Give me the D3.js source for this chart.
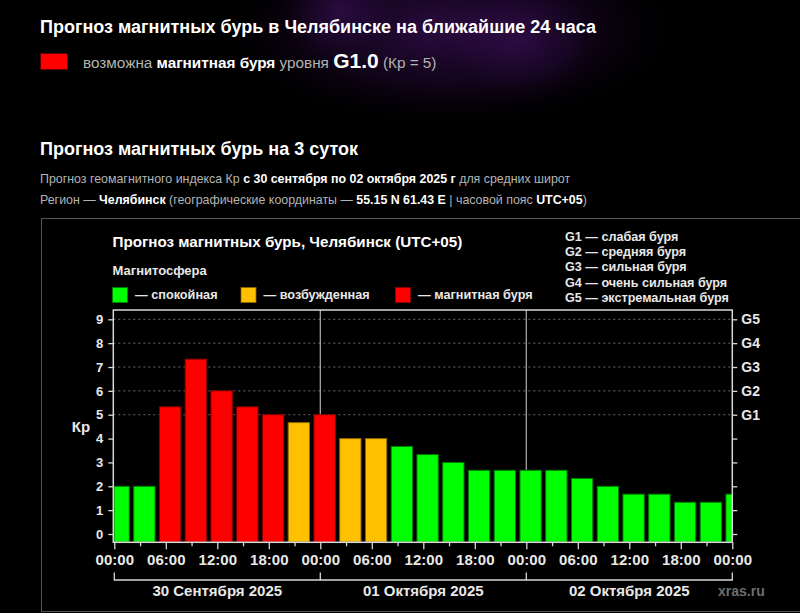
<!DOCTYPE html>
<html>
<head>
<meta charset="utf-8">
<script src="https://cdn.jsdelivr.net/npm/d3@7"></script>
<style>
  html, body { margin: 0; padding: 0; background: #000; }
  svg { display: block; font-family: "Liberation Sans", Arial, sans-serif; }
</style>
</head>
<body>
<svg id="chart"></svg>
<script>
// Kp forecast, one value per 3 hours, 30.09 00:00 .. 03.10 00:00
const kpValues = [2, 2, 5.33, 7.33, 6, 5.33, 5, 4.67, 5, 4, 4, 3.67, 3.33,
                  3, 2.67, 2.67, 2.67, 2.67, 2.33, 2, 1.67, 1.67, 1.33, 1.33, 1.67];
const hourLabels = ["00:00", "06:00", "12:00", "18:00", "00:00", "06:00", "12:00",
                    "18:00", "00:00", "06:00", "12:00", "18:00", "00:00"];
const dayLabels = ["30 Сентября 2025", "01 Октября 2025", "02 Октября 2025"];
const stormLevels = ["G1", "G2", "G3", "G4", "G5"];
const stormNames = ["слабая буря", "средняя буря", "сильная буря", "очень сильная буря", "экстремальная буря"];
const stateLabels = ["— спокойная", "— возбужденная", "— магнитная буря"];
const stateColors = ["#00ff00", "#ffc000", "#ff0000"];
const stateStroke = ["#007a00", "#8a6800", "#8a0000"];

const width = 800;
const height = 613;

// plot box
const plotLeft = 113.3, plotRight = 732.3, plotTop = 310, plotBottom = 542.3;

const svg = d3.select('#chart')
    .attr('width', width)
    .attr('height', height);

const defs = svg.append('defs');

// purple haze behind the header
const haze = defs.append('radialGradient').attr('id', 'haze');
haze.append('stop').attr('offset', '0%').attr('stop-color', '#4a1470').attr('stop-opacity', 0.6);
haze.append('stop').attr('offset', '55%').attr('stop-color', '#2a0a40').attr('stop-opacity', 0.4);
haze.append('stop').attr('offset', '100%').attr('stop-color', '#000').attr('stop-opacity', 0);

svg.append('rect').attr('width', width).attr('height', height).attr('fill', '#000');
svg.append('ellipse').attr('cx', 450).attr('cy', 30).attr('rx', 240).attr('ry', 100).attr('fill', 'url(#haze)');
svg.append('ellipse').attr('cx', 340).attr('cy', 10).attr('rx', 70).attr('ry', 60).attr('fill', 'url(#haze)').attr('opacity', 0.7);
svg.append('ellipse').attr('cx', 520).attr('cy', 40).attr('rx', 90).attr('ry', 70).attr('fill', 'url(#haze)').attr('opacity', 0.6);

// ---- header texts
const grey = '#b4b4b4';

svg.append('text')
    .attr('x', 40).attr('y', 33)
    .attr('font-size', 18).attr('font-weight', 'bold').attr('fill', '#fff')
    .text('Прогноз магнитных бурь в Челябинске на ближайшие 24 часа');

svg.append('rect')
    .attr('x', 40.5).attr('y', 53.5).attr('width', 27).attr('height', 16)
    .attr('fill', '#ff0000').attr('stroke', '#5a0000').attr('stroke-width', 1);

const line2 = svg.append('text').attr('x', 83).attr('y', 68).attr('font-size', 15.3).attr('fill', grey);
line2.append('tspan').text('возможна ');
line2.append('tspan').attr('font-weight', 'bold').attr('fill', '#fff').text('магнитная буря');
line2.append('tspan').text(' уровня ');
line2.append('tspan').attr('font-weight', 'bold').attr('fill', '#fff').attr('font-size', 21).text('G1.0');
line2.append('tspan').text(' (Кр = 5)');

svg.append('text')
    .attr('x', 40).attr('y', 155)
    .attr('font-size', 18).attr('font-weight', 'bold').attr('fill', '#fff')
    .text('Прогноз магнитных бурь на 3 суток');

const line3 = svg.append('text').attr('x', 40).attr('y', 183).attr('font-size', 12.4).attr('fill', grey);
line3.append('tspan').text('Прогноз геомагнитного индекса Кр ');
line3.append('tspan').attr('font-weight', 'bold').attr('fill', '#fff').text('с 30 сентября по 02 октября 2025 г');
line3.append('tspan').text(' для средних широт');

const line4 = svg.append('text').attr('x', 40).attr('y', 204).attr('font-size', 12.4).attr('fill', grey);
line4.append('tspan').text('Регион — ');
line4.append('tspan').attr('font-weight', 'bold').attr('fill', '#fff').text('Челябинск');
line4.append('tspan').text(' (географические координаты — ');
line4.append('tspan').attr('font-weight', 'bold').attr('fill', '#fff').text('55.15 N 61.43 E');
line4.append('tspan').text(' | часовой пояс ');
line4.append('tspan').attr('font-weight', 'bold').attr('fill', '#fff').text('UTC+05');
line4.append('tspan').text(')');

// chart container
svg.append('rect')
    .attr('x', 41.5).attr('y', 218.5).attr('width', 780).attr('height', 393)
    .attr('fill', '#000').attr('stroke', '#555').attr('stroke-width', 1);

// ---- chart
const chartText = '#e8e8e8';

svg.append('text')
    .attr('x', 112.5).attr('y', 247)
    .attr('font-size', 15.2).attr('font-weight', 'bold').attr('fill', '#fff')
    .text('Прогноз магнитных бурь, Челябинск (UTC+05)');

svg.append('text')
    .attr('x', 112.5).attr('y', 275)
    .attr('font-size', 13).attr('font-weight', 'bold').attr('fill', chartText)
    .text('Магнитосфера');

const legendX = [112.5, 241, 395.5];
stateLabels.forEach((label, i) => {
    svg.append('rect')
        .attr('x', legendX[i]).attr('y', 287.5).attr('width', 15).attr('height', 15)
        .attr('fill', stateColors[i]).attr('stroke', stateStroke[i]).attr('stroke-width', 0.8);
    svg.append('text')
        .attr('x', legendX[i] + 22.5).attr('y', 299)
        .attr('font-size', 12.7).attr('font-weight', 'bold').attr('fill', chartText)
        .text(label);
});

stormLevels.forEach((g, i) => {
    svg.append('text')
        .attr('x', 565).attr('y', 241 + i * 15.2)
        .attr('font-size', 12.6).attr('font-weight', 'bold').attr('fill', chartText)
        .text(`${g} — ${stormNames[i]}`);
});

const x = d3.scaleLinear().domain([0, 72]).range([114.3, 732.3]);
const y = d3.scaleLinear().domain([0, 9]).range([534, 319.3]);

const kpColor = kp => kp >= 5 ? 2 : (kp >= 4 ? 1 : 0);

defs.append('clipPath').attr('id', 'plot-clip')
    .append('rect')
    .attr('x', x(0)).attr('y', plotTop)
    .attr('width', x(72) - x(0)).attr('height', plotBottom - plotTop);

// grid lines for G levels
svg.append('g')
    .selectAll('line')
    .data(d3.range(5, 10))
    .enter()
    .append('line')
    .attr('x1', plotLeft).attr('x2', plotRight)
    .attr('y1', d => y(d)).attr('y2', d => y(d))
    .attr('stroke', '#6a6a6a')
    .attr('stroke-width', 1)
    .attr('stroke-dasharray', '2,3');

// day separators
svg.append('g')
    .selectAll('line')
    .data([24, 48])
    .enter()
    .append('line')
    .attr('x1', d => x(d)).attr('x2', d => x(d))
    .attr('y1', plotTop).attr('y2', plotBottom)
    .attr('stroke', '#b0b0b0')
    .attr('stroke-width', 1.2);

// bars
svg.append('g')
    .attr('clip-path', 'url(#plot-clip)')
    .selectAll('rect')
    .data(kpValues)
    .enter()
    .append('rect')
    .attr('x', (d, i) => x(i * 3 - 0.8) + 0.5)
    .attr('width', x(2.6) - x(0) - 1)
    .attr('y', d => y(d))
    .attr('height', d => y(0) - y(d) + 8)
    .attr('fill', d => stateColors[kpColor(d)])
    .attr('stroke', d => stateStroke[kpColor(d)])
    .attr('stroke-width', 1);

// frame
svg.append('rect')
    .attr('x', plotLeft).attr('y', plotTop)
    .attr('width', plotRight - plotLeft).attr('height', plotBottom - plotTop)
    .attr('fill', 'none')
    .attr('stroke', '#d8d8d8')
    .attr('stroke-width', 1.5);

function styleAxis(g, size) {
    g.select('.domain').remove();
    g.selectAll('line').attr('stroke', '#d8d8d8').attr('stroke-width', 1.3);
    g.selectAll('text')
        .attr('fill', chartText)
        .attr('font-size', size)
        .attr('font-weight', 'bold')
        .attr('font-family', '"Liberation Sans", Arial, sans-serif');
}

// left Kp axis
svg.append('g')
    .attr('transform', `translate(${plotLeft},0)`)
    .call(d3.axisLeft(y).tickValues(d3.range(0, 10)).tickSize(5).tickPadding(5).tickFormat(d3.format('d')))
    .call(g => styleAxis(g, 13));

// right G axis
svg.append('g')
    .attr('transform', `translate(${plotRight},0)`)
    .call(d3.axisRight(y).tickValues(d3.range(0, 10)).tickSize(5).tickPadding(4)
        .tickFormat(d => d >= 5 ? stormLevels[d - 5] : ''))
    .call(g => styleAxis(g, 14));

svg.append('text')
    .attr('x', 81).attr('y', 432)
    .attr('text-anchor', 'middle')
    .attr('font-size', 15).attr('font-weight', 'bold').attr('fill', chartText)
    .text('Кр');

// bottom time axis: major every 6h, minor every 3h
svg.append('g')
    .attr('transform', `translate(0,${plotBottom})`)
    .call(d3.axisBottom(x).tickValues(d3.range(3, 72, 6)).tickSize(4).tickFormat(''))
    .call(g => styleAxis(g, 15));

svg.append('g')
    .attr('transform', `translate(0,${plotBottom})`)
    .call(d3.axisBottom(x).tickValues(d3.range(0, 73, 6)).tickSize(7).tickPadding(5)
        .tickFormat((d, i) => hourLabels[i]))
    .call(g => styleAxis(g, 15));

// day brackets
const bracketY = 580;
svg.append('path')
    .attr('d', `M${x(0)},${bracketY - 7.5}V${bracketY}H${x(72)}V${bracketY - 7.5}`
        + `M${x(24)},${bracketY}V${bracketY - 7.5}M${x(48)},${bracketY}V${bracketY - 7.5}`)
    .attr('fill', 'none')
    .attr('stroke', '#d8d8d8')
    .attr('stroke-width', 1.3);

dayLabels.forEach((label, i) => {
    svg.append('text')
        .attr('x', x(i * 24 + 12)).attr('y', 596)
        .attr('text-anchor', 'middle')
        .attr('font-size', 15).attr('font-weight', 'bold').attr('fill', chartText)
        .text(label);
});

svg.append('text')
    .attr('x', 718).attr('y', 596)
    .attr('font-size', 14).attr('font-weight', 'bold').attr('fill', '#6e6e6e')
    .text('xras.ru');
</script>
</body>
</html>
